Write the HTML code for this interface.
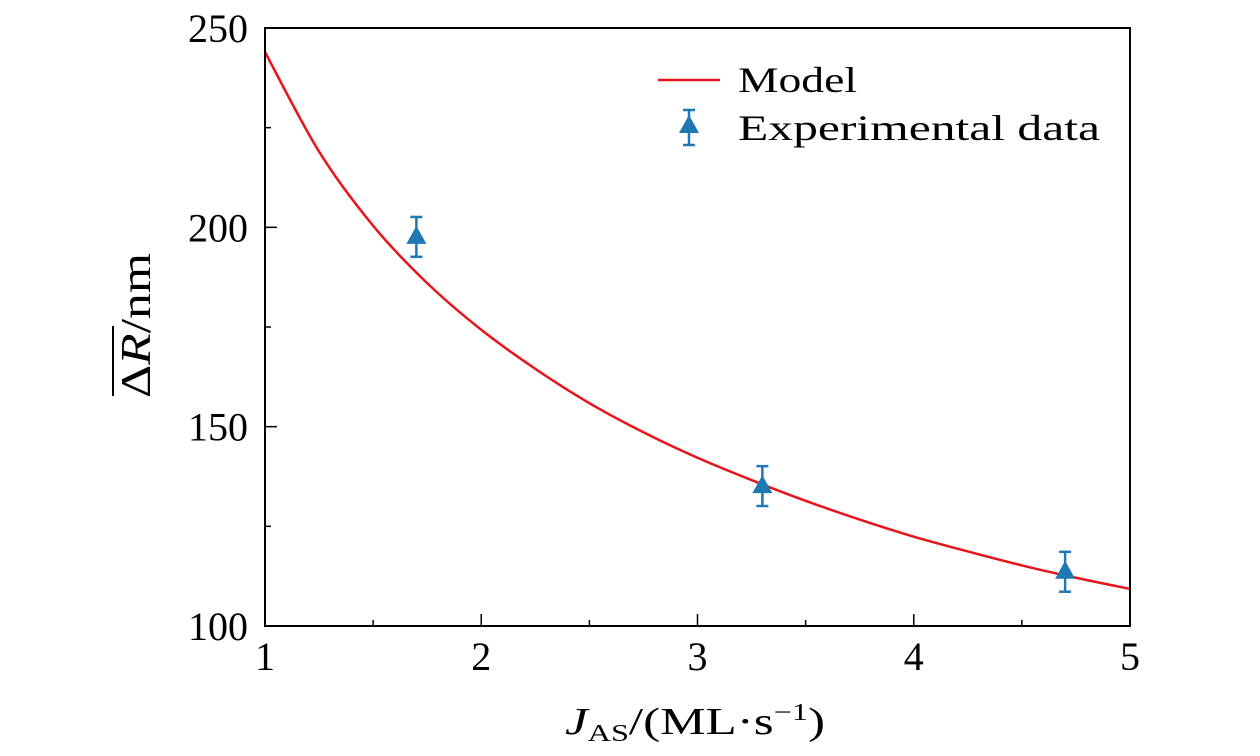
<!DOCTYPE html>
<html><head><meta charset="utf-8"><style>
html,body{margin:0;padding:0;background:#fff;}
svg{display:block;font-family:"Liberation Serif",serif;}
</style></head><body>
<svg id="chart" width="1260" height="756" viewBox="0 0 1260 756">
<g id="plot"></g>
</svg>
<script>
const xTicks=[1,2,3,4,5];
const xMinor=[1.5,2.5,3.5,4.5];
const yTicks=[100,150,200,250];
const yMinor=[125,175,225];
const modelX=[1,1.25,1.5,1.75,2,2.25,2.5,2.75,3,3.25,3.5,3.75,4,4.25,4.5,4.75,5];
const modelY=[244,219,200.4,186,174.3,164.5,155.9,148.6,142.2,136.6,131.4,126.7,122.4,118.7,115.2,112.1,109.3];
const expX=[1.7,3.3,4.7];
const expY=[197.6,135.1,113.6];
const expErr=[5,5,5];

const L=265,R=1130,T=28,B=626;
const sx=v=>L+(v-1)/(5-1)*(R-L);
const sy=v=>B-(v-100)/(250-100)*(B-T);
const NS='http://www.w3.org/2000/svg';
const g=document.getElementById('plot');
function mk(tag,attrs,parent){const e=document.createElementNS(NS,tag);for(const k in attrs)e.setAttribute(k,attrs[k]);(parent||g).appendChild(e);return e;}

const defs=mk('defs',{});
const cp=mk('clipPath',{id:'clip'},defs);
mk('rect',{x:L,y:T,width:R-L,height:B-T},cp);

const pts=modelX.map((x,i)=>[sx(x),sy(modelY[i])]);
let d='M'+pts[0][0]+','+pts[0][1];
for(let i=0;i<pts.length-1;i++){
 const p0=pts[Math.max(0,i-1)],p1=pts[i],p2=pts[i+1],p3=pts[Math.min(pts.length-1,i+2)];
 const c1=[p1[0]+(p2[0]-p0[0])/6,p1[1]+(p2[1]-p0[1])/6];
 const c2=[p2[0]-(p3[0]-p1[0])/6,p2[1]-(p3[1]-p1[1])/6];
 d+=' C'+c1+' '+c2+' '+p2;
}
const curve=mk('path',{d:d,fill:'none',stroke:'#e8141b','stroke-width':2.5,'clip-path':'url(#clip)'});



expX.forEach((x,i)=>{
 const px=sx(x),py=sy(expY[i]),top=sy(expY[i]+expErr[i]),bot=sy(expY[i]-expErr[i]);
 const grp=mk('g',{});
 
 
 mk('line',{x1:px,y1:top,x2:px,y2:bot,stroke:'#1f77b4','stroke-width':2.5},grp);
 mk('line',{x1:px-6,y1:top,x2:px+6,y2:top,stroke:'#1f77b4','stroke-width':2.5},grp);
 mk('line',{x1:px-6,y1:bot,x2:px+6,y2:bot,stroke:'#1f77b4','stroke-width':2.5},grp);
 mk('polygon',{points:`${px},${py-11} ${px-10},${py+7} ${px+10},${py+7}`,fill:'#1f77b4'},grp);
});

const fr=mk('rect',{x:L,y:T,width:R-L,height:B-T,fill:'none',stroke:'#000','stroke-width':2});



xTicks.forEach(v=>{const x=sx(v);mk('line',{x1:x,y1:B,x2:x,y2:B-12,stroke:'#000','stroke-width':1.5});
 const t=mk('text',{x:x,y:B+44,'text-anchor':'middle','font-size':40});t.textContent=v;
 });
xMinor.forEach(v=>{const x=sx(v);mk('line',{x1:x,y1:B,x2:x,y2:B-6,stroke:'#000','stroke-width':1.5});});
yTicks.forEach(v=>{const y=sy(v);mk('line',{x1:L,y1:y,x2:L+12,y2:y,stroke:'#000','stroke-width':1.5});
 const t=mk('text',{x:L-17,y:y+14,'text-anchor':'end','font-size':40});t.textContent=v;
 });
yMinor.forEach(v=>{const y=sy(v);mk('line',{x1:L,y1:y,x2:L+6,y2:y,stroke:'#000','stroke-width':1.5});});

const lg=mk('g',{});


mk('line',{x1:658,y1:80,x2:720,y2:80,stroke:'#e8141b','stroke-width':2.5},lg);
const t1=mk('text',{x:738,y:92,'font-size':36,textLength:119,lengthAdjust:'spacingAndGlyphs'},lg);t1.textContent='Model';
mk('line',{x1:689,y1:110,x2:689,y2:145,stroke:'#1f77b4','stroke-width':2.5},lg);
mk('line',{x1:683,y1:110,x2:695,y2:110,stroke:'#1f77b4','stroke-width':2.5},lg);
mk('line',{x1:683,y1:145,x2:695,y2:145,stroke:'#1f77b4','stroke-width':2.5},lg);
mk('polygon',{points:'689,115 679,133 699,133',fill:'#1f77b4'},lg);
const t2=mk('text',{x:738,y:140,'font-size':36,textLength:362,lengthAdjust:'spacingAndGlyphs'},lg);t2.textContent='Experimental data';

const xt=mk('text',{x:565,y:734,'text-anchor':'start','font-size':38,textLength:260,lengthAdjust:'spacingAndGlyphs'});

xt.innerHTML='<tspan font-style="italic">J</tspan><tspan font-size="24" dy="7">AS</tspan><tspan dy="-7">/(ML·s</tspan><tspan font-size="24" dy="-14">−1</tspan><tspan dy="14">)</tspan>';

const yt=mk('g',{transform:'translate(150,398) rotate(-90)'});

const ytt=mk('text',{x:0,y:0,'text-anchor':'start','font-size':42,textLength:145,lengthAdjust:'spacingAndGlyphs'},yt);
ytt.innerHTML='Δ<tspan font-style="italic">R</tspan>/nm';
mk('line',{x1:2,y1:-37,x2:72,y2:-37,stroke:'#000','stroke-width':2},yt);
</script>
</body></html>
